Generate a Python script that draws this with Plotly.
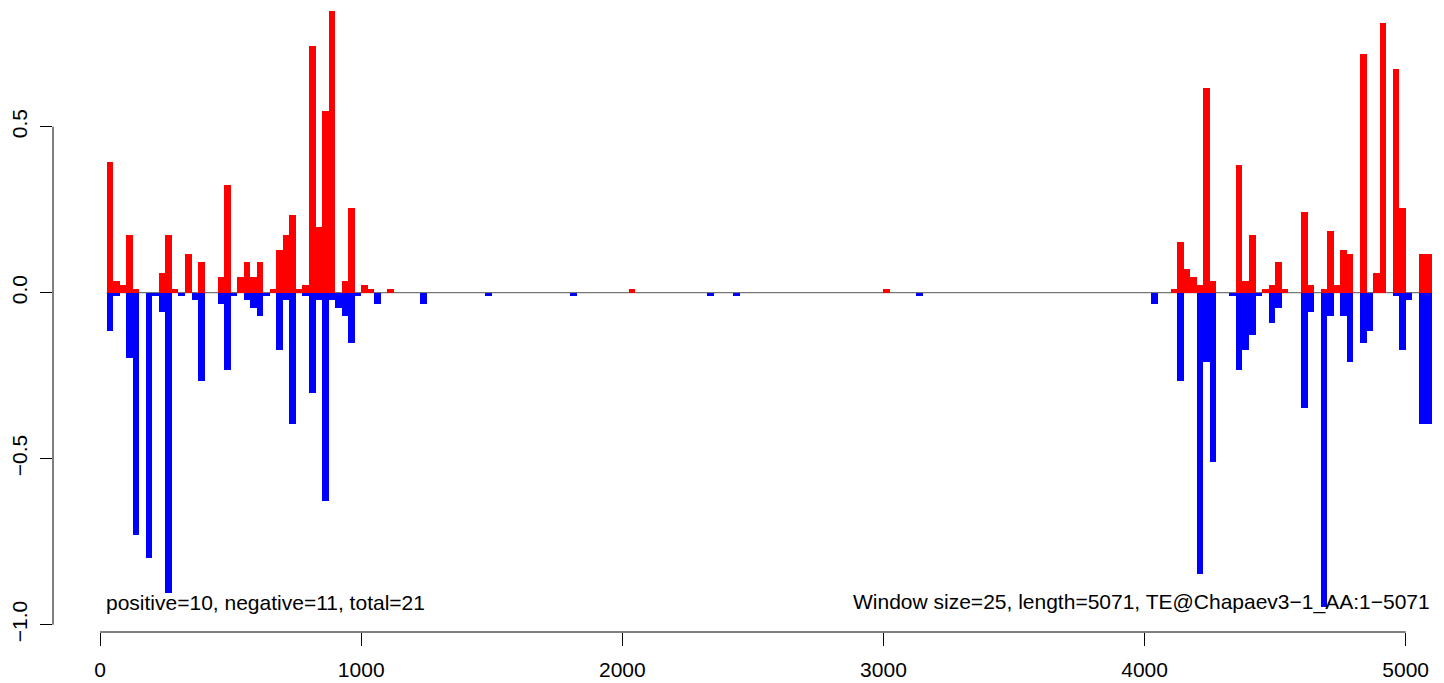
import plotly.graph_objects as go

WINDOW = 25

# window index (bar starts at index*25) and values
pos_index = [1, 2, 3, 4, 5, 9, 10, 11, 13, 15, 18, 19, 21, 22, 23, 24, 26, 27, 28, 29,
             30, 31, 32, 33, 34, 35, 37, 38, 40, 41, 44, 81, 120, 164, 165, 166, 167,
             168, 169, 170, 174, 175, 176, 178, 179, 180, 181, 184, 185, 187, 188, 189,
             190, 191, 193, 195, 196, 198, 199, 202, 203]
pos_values = [0.393, 0.035, 0.023, 0.173, 0.011, 0.059, 0.173, 0.011, 0.116, 0.092,
              0.047, 0.324, 0.047, 0.092, 0.047, 0.092, 0.011, 0.128, 0.173, 0.233,
              0.011, 0.023, 0.742, 0.197, 0.547, 0.848, 0.035, 0.254, 0.023, 0.011,
              0.011, 0.011, 0.011, 0.011, 0.152, 0.071, 0.047, 0.023, 0.616, 0.035,
              0.384, 0.035, 0.173, 0.011, 0.023, 0.092, 0.011, 0.242, 0.023, 0.011,
              0.185, 0.023, 0.128, 0.116, 0.718, 0.059, 0.812, 0.673, 0.254, 0.116,
              0.116]

neg_index = [1, 2, 4, 5, 7, 8, 9, 10, 12, 14, 15, 18, 19, 20, 22, 23, 24, 25, 27, 28,
             29, 31, 32, 33, 34, 35, 36, 37, 38, 39, 42, 49, 59, 72, 93, 97, 125, 161,
             165, 168, 169, 170, 173, 174, 175, 176, 177, 179, 180, 184, 185, 187, 188,
             190, 191, 193, 194, 198, 199, 200, 202, 203]
neg_values = [-0.115, -0.010, -0.197, -0.729, -0.798, -0.010, -0.059, -0.904, -0.010,
              -0.022, -0.266, -0.034, -0.232, -0.010, -0.022, -0.046, -0.070, -0.010,
              -0.172, -0.022, -0.395, -0.010, -0.302, -0.022, -0.627, -0.022, -0.046,
              -0.070, -0.151, -0.010, -0.034, -0.034, -0.010, -0.010, -0.010, -0.010,
              -0.010, -0.034, -0.265, -0.847, -0.208, -0.510, -0.010, -0.232, -0.172,
              -0.127, -0.010, -0.091, -0.046, -0.347, -0.058, -0.947, -0.070, -0.070,
              -0.208, -0.151, -0.115, -0.010, -0.172, -0.022, -0.395, -0.395]

x_ticks = [0, 1000, 2000, 3000, 4000, 5000]
x_ticktext = ["0", "1000", "2000", "3000", "4000", "5000"]
y_ticks = [-1.0, -0.5, 0.0, 0.5]
y_ticktext = ["\u22121.0", "\u22120.5", "0.0", "0.5"]

seq_length = 5071
left_note = "positive=10, negative=11, total=21"
right_note = "Window size=25, length=5071, TE@Chapaev3\u22121_AA:1\u22125071"

FONT = "Liberation Sans, Arial, Helvetica, sans-serif"

fig = go.Figure()
fig.add_trace(go.Bar(x=[i * WINDOW for i in pos_index], y=pos_values, width=WINDOW,
                     offset=0, marker=dict(color="#FF0000", line=dict(width=0)),
                     showlegend=False, hoverinfo="x+y"))
fig.add_trace(go.Bar(x=[i * WINDOW for i in neg_index], y=neg_values, width=WINDOW,
                     offset=0, marker=dict(color="#0000FF", line=dict(width=0)),
                     showlegend=False, hoverinfo="x+y"))

# zero line
fig.add_shape(type="line", x0=WINDOW, x1=seq_length, y0=0, y1=0, xref="x", yref="y",
              line=dict(color="#555555", width=1), layer="below")
# axis lines spanning first to last tick (R style)
fig.add_shape(type="line", x0=x_ticks[0], x1=x_ticks[-1], y0=0, y1=0, xref="x", yref="paper",
              line=dict(color="black", width=1))
fig.add_shape(type="line", x0=0, x1=0, y0=y_ticks[0], y1=y_ticks[-1], xref="paper", yref="y",
              line=dict(color="black", width=1))

fig.add_annotation(x=14, y=-0.932, text=left_note, showarrow=False, xanchor="left",
                   yanchor="middle", font=dict(family=FONT, size=21, color="black"))
fig.add_annotation(x=5101, y=-0.932, text=right_note, showarrow=False, xanchor="right",
                   yanchor="middle", font=dict(family=FONT, size=21, color="black"))

fig.update_layout(
    width=1436, height=675,
    margin=dict(l=42, r=4, t=0, b=51),
    paper_bgcolor="white", plot_bgcolor="white",
    barmode="overlay", bargap=0,
    font=dict(family=FONT, size=21, color="black"),
    xaxis=dict(range=[-180.4, 5131.4], tickvals=x_ticks, ticktext=x_ticktext,
               ticks="outside", ticklen=13, tickwidth=1, tickcolor="black",
               showline=False, showgrid=False, zeroline=False,
               tickfont=dict(family=FONT, size=21, color="black"), ticklabelstandoff=6),
    yaxis=dict(range=[-1.0220, 0.8575], tickvals=y_ticks, ticktext=y_ticktext,
               ticks="outside", ticklen=12, tickwidth=1, tickcolor="black",
               tickangle=-90, showline=False, showgrid=False, zeroline=False,
               tickfont=dict(family=FONT, size=21, color="black"), ticklabelstandoff=5),
)

fig.write_html("out.html")
